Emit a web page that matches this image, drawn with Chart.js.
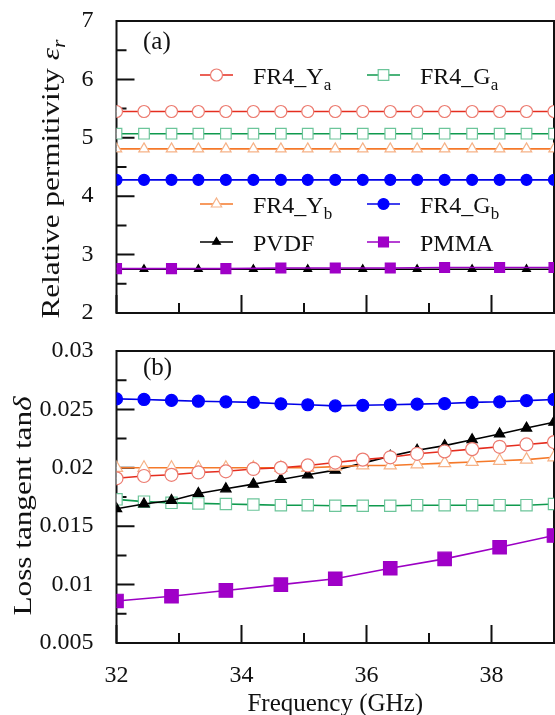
<!DOCTYPE html>
<html>
<head>
<meta charset="utf-8">
<script src="https://cdn.jsdelivr.net/npm/chart.js@4.4.0/dist/chart.umd.min.js"></script>
<style>
  html, body { margin: 0; padding: 0; background: #fff; }
  #wrap { position: relative; width: 555px; height: 715px; overflow: hidden; }
  canvas { position: absolute; left: 0; }
  #permChart { top: 0; }
  #lossChart { top: 330px; }
</style>
</head>
<body>
<div id="wrap">
  <canvas id="permChart" width="555" height="330"></canvas>
  <canvas id="lossChart" width="555" height="385"></canvas>
</div>
<script>
// frequency points (GHz); PMMA was measured at every other point
const freqs = [32, 32.44, 32.88, 33.31, 33.75, 34.19, 34.63, 35.06, 35.5, 35.94, 36.38, 36.81, 37.25, 37.69, 38.13, 38.56, 39];
const freqsPmma = [32, 32.88, 33.75, 34.63, 35.5, 36.38, 37.25, 38.13, 39];

// (a) relative permittivity
const epsYa = [5.45, 5.45, 5.45, 5.45, 5.45, 5.45, 5.45, 5.45, 5.45, 5.45, 5.45, 5.45, 5.45, 5.45, 5.45, 5.45, 5.45];
const epsGa = [5.07, 5.07, 5.07, 5.07, 5.07, 5.07, 5.07, 5.07, 5.07, 5.07, 5.07, 5.07, 5.07, 5.07, 5.07, 5.07, 5.07];
const epsYb = [4.81, 4.81, 4.81, 4.81, 4.81, 4.81, 4.81, 4.81, 4.81, 4.81, 4.81, 4.81, 4.81, 4.81, 4.81, 4.81, 4.81];
const epsGb = [4.28, 4.28, 4.28, 4.28, 4.28, 4.28, 4.28, 4.28, 4.28, 4.28, 4.28, 4.28, 4.28, 4.28, 4.28, 4.28, 4.28];
const epsPvdf = [2.75, 2.75, 2.75, 2.75, 2.75, 2.75, 2.75, 2.75, 2.75, 2.75, 2.75, 2.75, 2.75, 2.75, 2.75, 2.75, 2.75];
const epsPmma = [2.76, 2.76, 2.76, 2.77, 2.77, 2.77, 2.78, 2.78, 2.78];

// (b) loss tangent
const tanYa = [0.0191, 0.0193, 0.0194, 0.0196, 0.0197, 0.0199, 0.0200, 0.0202, 0.02045, 0.0207, 0.0209, 0.0212, 0.0214, 0.0216, 0.0218, 0.0220, 0.0222];
const tanGa = [0.0173, 0.0171, 0.0170, 0.01695, 0.0169, 0.01685, 0.0168, 0.0168, 0.01675, 0.01675, 0.01675, 0.0168, 0.0168, 0.0168, 0.0168, 0.0168, 0.0169];
const tanYb = [0.0200, 0.0200, 0.0200, 0.0200, 0.0200, 0.0200, 0.0200, 0.0200, 0.0201, 0.0202, 0.0202, 0.0203, 0.0204, 0.0205, 0.0206, 0.0207, 0.0209];
const tanGb = [0.0259, 0.02585, 0.02577, 0.0257, 0.02565, 0.0256, 0.02548, 0.0254, 0.0253, 0.02535, 0.0254, 0.02545, 0.0255, 0.0256, 0.02565, 0.02575, 0.02585];
const tanPvdf = [0.0165, 0.0169, 0.0172, 0.0178, 0.0182, 0.0186, 0.0190, 0.0194, 0.0198, 0.0204, 0.0210, 0.0215, 0.0219, 0.0224, 0.0229, 0.0234, 0.0239];
const tanPmma = [0.0086, 0.0090, 0.0095, 0.0100, 0.0105, 0.0114, 0.0122, 0.0132, 0.0142];

const seriesNames = ['FR4_Y', 'FR4_G', 'FR4_Y', 'FR4_G', 'PVDF', 'PMMA'];
const seriesSubs = ['a', 'a', 'b', 'b', '', ''];

const SERIF = "'Liberation Serif', 'Times New Roman', serif";

const styles = [
  { line: '#e52d1f', border: '#ec7b70', fill: '#ffffff', shape: 'circle', ra: 6, rb: 6.5 },
  { line: '#0f9a4e', border: '#6cc59a', fill: '#ffffff', shape: 'rect', ra: 7.5, rb: 8 },
  { line: '#f5792a', border: '#f6b287', fill: '#ffffff', shape: 'triangle', ra: 6, rb: 7 },
  { line: '#0000e8', border: '#0000ff', fill: '#0000ff', shape: 'circle', ra: 5.5, rb: 6 },
  { line: '#000000', border: '#000000', fill: '#000000', shape: 'triangle', ra: 4.5, rb: 6 },
  { line: '#9c00c4', border: '#9c00c4', fill: '#a000c8', shape: 'rect', ra: 7, rb: 9.5 }
];

function pts(xs, ys) {
  return xs.map(function (x, i) { return { x: x, y: ys[i] }; });
}

function makeDataset(idx, data, panel) {
  const s = styles[idx];
  return {
    label: seriesNames[idx] + seriesSubs[idx],
    data: data,
    borderColor: s.line,
    borderWidth: 1.6,
    pointStyle: s.shape,
    pointRadius: panel === 'a' ? s.ra : s.rb,
    pointBorderColor: s.border,
    pointBackgroundColor: s.fill,
    pointBorderWidth: 1.2,
    tension: 0,
    fill: false
  };
}

function isMajorX(v) { return Math.round(v) % 2 === 0; }

// inward tick marks and closed frame
const frameTicks = {
  id: 'frameTicks',
  beforeDatasetsDraw(chart) {
    const ctx = chart.ctx;
    const a = chart.chartArea;
    const xs = chart.scales.x;
    const ys = chart.scales.y;
    ctx.save();
    ctx.strokeStyle = '#111';
    ctx.lineWidth = 2;
    ctx.beginPath();
    xs.ticks.forEach(function (t) {
      const px = xs.getPixelForValue(t.value);
      const len = isMajorX(t.value) ? 18 : 10;
      ctx.moveTo(px, a.bottom);
      ctx.lineTo(px, a.bottom - len);
    });
    ys.ticks.forEach(function (t) {
      const py = ys.getPixelForValue(t.value);
      const len = t.label !== '' ? 18 : 10;
      ctx.moveTo(a.left, py);
      ctx.lineTo(a.left + len, py);
    });
    ctx.stroke();
    ctx.strokeRect(a.left, a.top, a.right - a.left, a.bottom - a.top);
    ctx.restore();
  }
};

function drawRich(ctx, parts, cx, baseY) {
  let w = 0;
  parts.forEach(function (p) { ctx.font = p[1]; w += ctx.measureText(p[0]).width; });
  let x = cx - w / 2;
  parts.forEach(function (p) {
    ctx.font = p[1];
    ctx.fillText(p[0], x, baseY + p[2]);
    x += ctx.measureText(p[0]).width;
  });
}

// the source figure is a bit taller than wide, so stretch rotated titles
function drawYTitle(ctx, parts, cx, cy) {
  ctx.save();
  ctx.translate(cx, cy);
  ctx.rotate(-Math.PI / 2);
  ctx.scale(1.2, 1);
  ctx.fillStyle = '#111';
  ctx.textAlign = 'left';
  ctx.textBaseline = 'alphabetic';
  drawRich(ctx, parts, 0, 0);
  ctx.restore();
}

const legendSpots = [
  [200, 75], [367, 75],
  [200, 204], [367, 204],
  [200, 242], [367, 242]
];

const annotateA = {
  id: 'annotateA',
  afterDraw(chart) {
    const ctx = chart.ctx;
    ctx.save();
    ctx.fillStyle = '#111';
    ctx.textAlign = 'left';
    ctx.textBaseline = 'alphabetic';
    ctx.font = '25px ' + SERIF;
    ctx.fillText('(a)', 143, 49);

    legendSpots.forEach(function (spot, i) {
      const s = styles[i];
      const x = spot[0];
      const y = spot[1];
      ctx.strokeStyle = s.line;
      ctx.lineWidth = 1.6;
      ctx.beginPath();
      ctx.moveTo(x, y);
      ctx.lineTo(x + 33, y);
      ctx.stroke();
      ctx.fillStyle = s.fill;
      ctx.strokeStyle = s.border;
      ctx.lineWidth = 1.2;
      Chart.helpers.drawPoint(ctx, { pointStyle: s.shape, radius: s.ra, borderWidth: 1.2, rotation: 0 }, x + 16.5, y);
      ctx.fillStyle = '#111';
      const parts = [[seriesNames[i], '24px ' + SERIF, 0]];
      if (seriesSubs[i]) parts.push([seriesSubs[i], '17px ' + SERIF, 6]);
      let tx = x + 53;
      parts.forEach(function (p) {
        ctx.font = p[1];
        ctx.fillText(p[0], tx, y + 9 + p[2]);
        tx += ctx.measureText(p[0]).width;
      });
    });

    drawYTitle(ctx, [
      ['Relative permitivity ', '26px ' + SERIF, 0],
      ['\u03b5', 'italic 26px ' + SERIF, 0],
      ['r', 'italic 18px ' + SERIF, 6]
    ], 59, 179);
    ctx.restore();
  }
};

const annotateB = {
  id: 'annotateB',
  afterDraw(chart) {
    const ctx = chart.ctx;
    ctx.save();
    ctx.fillStyle = '#111';
    ctx.textAlign = 'left';
    ctx.textBaseline = 'alphabetic';
    ctx.font = '25px ' + SERIF;
    ctx.fillText('(b)', 143, 45);
    drawYTitle(ctx, [
      ['Loss tangent tan', '26px ' + SERIF, 0],
      ['\u03b4', 'italic 26px ' + SERIF, 0]
    ], 31, 176);
    ctx.restore();
  }
};

function zeroPadding(scale) {
  scale.paddingTop = 0;
  scale.paddingBottom = 0;
  scale.paddingLeft = 0;
  scale.paddingRight = 0;
}

function xScale(showLabels, height) {
  return {
    type: 'linear',
    min: 32,
    max: 39,
    grid: { display: false },
    border: { display: false },
    ticks: {
      stepSize: 1,
      autoSkip: false,
      maxRotation: 0,
      padding: 10,
      color: '#111',
      font: { family: SERIF, size: 24 },
      callback: function (v) { return showLabels && isMajorX(v) ? String(v) : ''; }
    },
    title: {
      display: showLabels,
      text: 'Frequency (GHz)',
      color: '#111',
      font: { family: SERIF, size: 25 },
      padding: { top: 0, bottom: -4 }
    },
    afterFit: function (scale) { scale.height = height; zeroPadding(scale); }
  };
}

function yScale(min, max, step, labelFn) {
  return {
    type: 'linear',
    min: min,
    max: max,
    grid: { display: false },
    border: { display: false },
    ticks: {
      stepSize: step,
      autoSkip: false,
      padding: 15,
      color: '#111',
      font: { family: SERIF, size: 24 },
      callback: labelFn
    },
    afterFit: function (scale) { scale.width = 116.5; zeroPadding(scale); }
  };
}

const commonOpts = {
  responsive: false,
  animation: false,
  layout: { autoPadding: false, padding: { top: 21, right: 1, left: 0, bottom: 0 } },
  plugins: { legend: { display: false }, tooltip: { enabled: false } }
};

new Chart(document.getElementById('permChart'), {
  type: 'line',
  data: {
    datasets: [
      makeDataset(5, pts(freqsPmma, epsPmma), 'a'),
      makeDataset(4, pts(freqs, epsPvdf), 'a'),
      makeDataset(0, pts(freqs, epsYa), 'a'),
      makeDataset(1, pts(freqs, epsGa), 'a'),
      makeDataset(2, pts(freqs, epsYb), 'a'),
      makeDataset(3, pts(freqs, epsGb), 'a')
    ]
  },
  options: Object.assign({}, commonOpts, {
    scales: {
      x: xScale(false, 17),
      y: yScale(2, 7, 0.5, function (v) { return Number.isInteger(v) ? String(v) : ''; })
    }
  }),
  plugins: [frameTicks, annotateA]
});

new Chart(document.getElementById('lossChart'), {
  type: 'line',
  data: {
    datasets: [
      makeDataset(5, pts(freqsPmma, tanPmma), 'b'),
      makeDataset(0, pts(freqs, tanYa), 'b'),
      makeDataset(2, pts(freqs, tanYb), 'b'),
      makeDataset(4, pts(freqs, tanPvdf), 'b'),
      makeDataset(1, pts(freqs, tanGa), 'b'),
      makeDataset(3, pts(freqs, tanGb), 'b')
    ]
  },
  options: Object.assign({}, commonOpts, {
    scales: {
      x: xScale(true, 72),
      y: yScale(0.005, 0.03, 0.0025, function (v) {
        return Math.round(v * 10000) % 50 === 0 ? String(+v.toFixed(4)) : '';
      })
    }
  }),
  plugins: [frameTicks, annotateB]
});
</script>
</body>
</html>
